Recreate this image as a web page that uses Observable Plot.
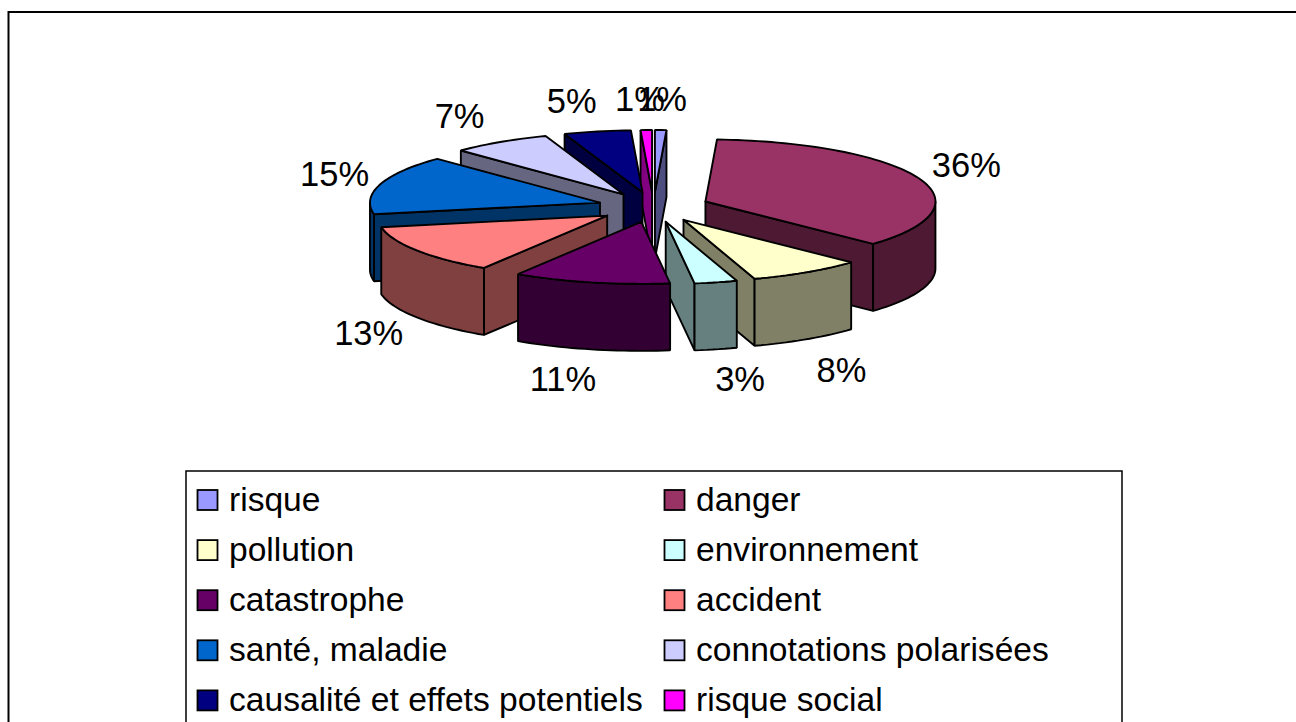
<!DOCTYPE html>
<html>
<head>
<meta charset="utf-8">
<style>html,body{margin:0;padding:0;background:#fff;overflow:hidden}svg{display:block}</style>
<script src="https://cdn.jsdelivr.net/npm/d3@7"></script>
<script src="https://cdn.jsdelivr.net/npm/@observablehq/plot@0.6"></script>
</head>
<body>
<div id="chart"></div>
<script>
const categories = ["risque","danger","pollution","environnement","catastrophe","accident","santé, maladie","connotations polarisées","causalité et effets potentiels","risque social"];
const shares = [0.8,36.2,8,3,11,13,15.5,7,4.7,0.8];
const labels = ["1%","36%","8%","3%","11%","13%","15%","7%","5%","1%"];
const colors = ["#9999FF","#993366","#FFFFCC","#CCFFFF","#660066","#FF8080","#0066CC","#CCCCFF","#000080","#FF00FF"];
const wallColors = ["#4D4D80","#4D1933","#808066","#668080","#330033","#804040","#003366","#666680","#000040","#800080"];
const paintOrder = [0,9,8,7,6,1,2,3,5,4];
const labelNudge = [[-2,0],[0,-1],[0,6],[0,1],[-4,1],[-4,0],[3,-1],[-6,0],[-2,0],[-3,0]];

// Pie projection
const W = 1296, H = 722;
const pie = {cx:653, cy:206.6, rx:230, ry:62, explode:56/230, depth:67};
const total = d3.sum(shares);
const proj = (ox, oy, a, r) => [ox + r*pie.rx*Math.sin(a), oy - r*pie.ry*Math.cos(a)];

let acc = 0;
const slices = shares.map((v,i) => {
  const a0 = acc/total*2*Math.PI; acc += v; const a1 = acc/total*2*Math.PI;
  const mid = (a0+a1)/2;
  const [ox,oy] = proj(pie.cx, pie.cy, mid, pie.explode);
  return {i, a0, a1, mid, ox, oy};
});

const faces = [];
for (const p of paintOrder) {
  const s = slices[p];
  const apex = [s.ox, s.oy];
  const arcPts = (b0, b1) => {
    const n = Math.max(2, Math.ceil((b1-b0)/0.03));
    return d3.range(n+1).map(k => proj(s.ox, s.oy, b0+(b1-b0)*k/n, 1));
  };
  const wall = (pts, tag) => {
    const id = `${p}-${tag}`;
    const ring = [...pts, ...pts.slice().reverse().map(([x,y]) => [x,y+pie.depth])];
    ring.push(ring[0]);
    ring.forEach(([x,y]) => faces.push({id, x, y, fill: wallColors[p]}));
  };
  // only the faces turned toward the viewer
  if (Math.sin(s.a0) < 0) wall([apex, proj(s.ox, s.oy, s.a0, 1)], "a");
  if (Math.sin(s.a1) > 0) wall([apex, proj(s.ox, s.oy, s.a1, 1)], "b");
  const f0 = Math.max(s.a0, Math.PI/2), f1 = Math.min(s.a1, 3*Math.PI/2);
  if (f1 > f0) wall(arcPts(f0, f1), "c");
  const top = [apex, ...arcPts(s.a0, s.a1), apex];
  top.forEach(([x,y]) => faces.push({id:`${p}-t`, x, y, fill: colors[p]}));
}

const labelRows = slices.map(s => {
  const sn = Math.sin(s.mid), cs = Math.cos(s.mid);
  const [mx,my] = proj(s.ox, s.oy, s.mid, 1);
  const [nx,ny] = labelNudge[s.i];
  return {
    text: labels[s.i],
    x: mx + 33*sn + 17*Math.max(-1, Math.min(1, sn*6)) + nx,
    y: my - 30*cs + (cs < 0 ? pie.depth : 0) + ny
  };
});

// Legend layout
const lg = {x1:186, y1:471, x2:1122, y2:760, col:[197.5,664.5], row0:500, step:50.1, sw:20, gap:11};
const legendRows = categories.map((name,i) => {
  const c = i%2, r = Math.floor(i/2);
  const xs = lg.col[c], yc = lg.row0 + r*lg.step;
  return {name, color:colors[i], x1:xs, x2:xs+lg.sw, y1:yc-lg.sw/2, y2:yc+lg.sw/2, tx:xs+lg.sw+lg.gap, ty:yc-0.5};
});

const plot = Plot.plot({
  width:W, height:H, margin:0,
  x:{domain:[0,W], range:[0,W], axis:null},
  y:{domain:[0,H], range:[0,H], axis:null},
  style:{background:"#fff", fontFamily:"'Liberation Sans',Arial,sans-serif"},
  marks:[
    Plot.rect([{}],{x1:()=>8.5, x2:()=>1320, y1:()=>12, y2:()=>760, fill:"#fff", stroke:"#000", strokeWidth:2}),
    Plot.line(faces,{x:"x", y:"y", z:"id", fill:"fill", stroke:"#000", strokeWidth:1.9, strokeLinejoin:"miter", curve:"linear"}),
    Plot.text(labelRows,{x:"x", y:"y", text:"text", fontSize:34.5, fill:"#000", textAnchor:"middle"}),
    Plot.rect([lg],{x1:"x1", x2:"x2", y1:"y1", y2:"y2", fill:"#fff", stroke:"#000", strokeWidth:1.5}),
    Plot.rect(legendRows,{x1:"x1", x2:"x2", y1:"y1", y2:"y2", fill:"color", stroke:"#000", strokeWidth:1.8}),
    Plot.text(legendRows,{x:"tx", y:"ty", text:"name", fontSize:33.6, fill:"#000", textAnchor:"start"})
  ]
});
document.getElementById("chart").appendChild(plot);
</script>
</body>
</html>
